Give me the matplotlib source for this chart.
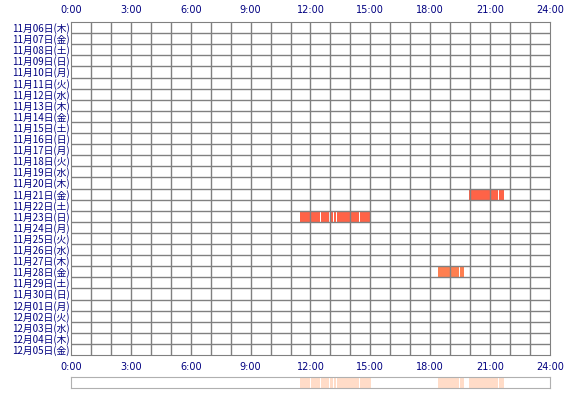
import datetime as dt
import matplotlib
matplotlib.use("Agg")
import matplotlib.pyplot as plt

plt.rcParams['font.family'] = ['Noto Sans CJK JP', 'DejaVu Sans']

START = dt.date(2025, 11, 6)
N_DAYS = 30
WEEK = ["月", "火", "水", "木", "金", "土", "日"]
DAY_LABELS = [f"{d.month}月{d.day:02d}日({WEEK[d.weekday()]})"
              for d in (START + dt.timedelta(i) for i in range(N_DAYS))]
HOUR_TICKS = list(range(0, 25, 3))
HOUR_LABELS = [f"{h}:00" for h in HOUR_TICKS]

# (day index, start hour, end hour)
SESSIONS = [
    (15, 19.95, 21.37), (15, 21.45, 21.70),
    (17, 11.45, 11.98), (17, 12.03, 12.22), (17, 12.25, 12.50),
    (17, 12.55, 12.95), (17, 13.00, 13.13), (17, 13.17, 13.28),
    (17, 13.33, 14.43), (17, 14.48, 15.03),
    (22, 18.40, 19.45), (22, 19.50, 19.70),
]
COLORS = {15: "#ff6347", 17: "#ff6347", 22: "#ff7f50"}

W, H = 570, 400
fig = plt.figure(figsize=(W / 100, H / 100), dpi=100)
ax = fig.add_axes([71 / W, 1 - 355 / H, 479 / W, 333 / H])
ax.set_xlim(0, 24)
ax.set_ylim(N_DAYS, 0)
for d, s, e in SESSIONS:
    ax.barh(d + 0.5, e - s, left=s, height=1.0, color=COLORS[d], zorder=1)
for h in range(1, 24):
    ax.axvline(h, color="#808080", lw=1, zorder=2)
for i in range(1, N_DAYS):
    ax.axhline(i, color="#808080", lw=1, zorder=2)
for sp in ax.spines.values():
    sp.set_color("#808080")
ax.set_xticks(HOUR_TICKS)
ax.set_xticklabels(HOUR_LABELS, fontsize=7, color="#000080", family="DejaVu Sans")
ax.tick_params(axis="x", length=0, top=True, labeltop=True, pad=5)
ax.set_yticks([i + 0.5 for i in range(N_DAYS)])
ax.set_yticklabels(DAY_LABELS, fontsize=7, color="#000080")
ax.tick_params(axis="y", length=0, pad=1)

# summary strip
ax2 = fig.add_axes([71 / W, 1 - 388 / H, 479 / W, 11 / H])
ax2.set_xlim(0, 24)
ax2.set_ylim(0, 1)
for d, s, e in SESSIONS:
    ax2.axvspan(s, e, color="#ffdcc8", lw=0)
for sp in ax2.spines.values():
    sp.set_color("#b0b0b0")
ax2.set_xticks([])
ax2.set_yticks([])

fig.savefig("out.png", dpi=100)
